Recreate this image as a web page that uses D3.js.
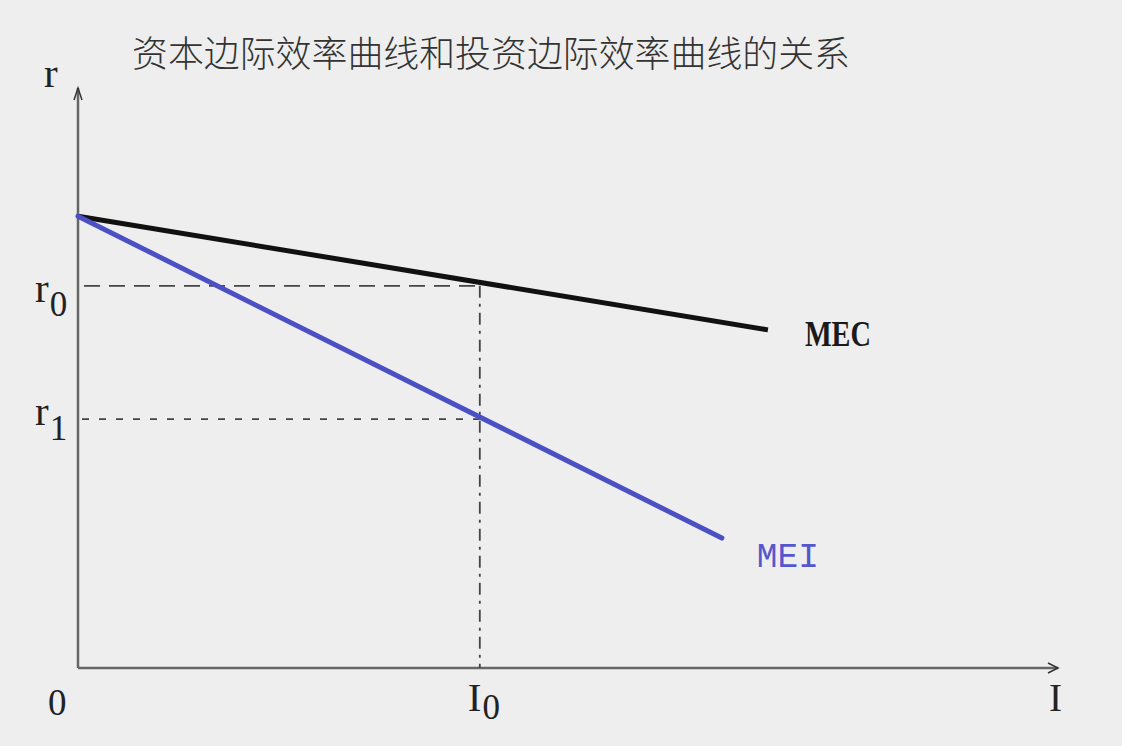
<!DOCTYPE html>
<html><head><meta charset="utf-8">
<script src="https://cdn.jsdelivr.net/npm/d3@7"></script>
<style>html,body{margin:0;padding:0;background:#eeeeee;}svg{display:block;}</style>
</head><body>
<svg id="c" width="1122" height="746"></svg>
<script>
// Data (abstract units)
const titleText = "资本边际效率曲线和投资边际效率曲线的关系";
const xDomain = [0, 10];
const yDomain = [0, 10];
const mecPoints = [[0, 7.79], [7.04, 5.83]];
const meiPoints = [[0, 7.79], [6.57, 2.24]];
const I0 = 4.1;
const r0 = 6.59;
const r1 = 4.29;
const axisMaxX = 10, axisMaxY = 10;

const svg = d3.select("#c");
const x = d3.scaleLinear().domain(xDomain).range([78, 1058]);
const y = d3.scaleLinear().domain(yDomain).range([668, 88]);

svg.append("rect").attr("width",1122).attr("height",746).attr("fill","#eeeeee");

// title
svg.append("text").attr("x",132).attr("y",67)
  .attr("font-family","'Noto Sans CJK SC'").attr("font-size",36).attr("font-weight",300)
  .attr("fill","#333").attr("textLength",718).attr("lengthAdjust","spacingAndGlyphs").text(titleText);

// axes
const axisColor = "#666";
svg.append("line").attr("x1",x(0)).attr("y1",y(0)).attr("x2",x(0)).attr("y2",y(axisMaxY))
  .attr("stroke",axisColor).attr("stroke-width",2.5);
svg.append("line").attr("x1",x(0)).attr("y1",y(0)).attr("x2",x(axisMaxX)).attr("y2",y(0))
  .attr("stroke",axisColor).attr("stroke-width",2.5);
// arrowheads
svg.append("path").attr("d",`M${x(0)-4},${y(axisMaxY)+12} L${x(0)},${y(axisMaxY)} L${x(0)+4},${y(axisMaxY)+12}`)
  .attr("fill","none").attr("stroke","#333").attr("stroke-width",1.5);
svg.append("path").attr("d",`M${x(axisMaxX)-10},${y(0)-5} L${x(axisMaxX)},${y(0)} L${x(axisMaxX)-10},${y(0)+5}`)
  .attr("fill","none").attr("stroke","#333").attr("stroke-width",1.5);

// dashed guides
svg.append("line").attr("x1",x(0)+6).attr("y1",y(r0)).attr("x2",x(I0)).attr("y2",y(r0))
  .attr("stroke","#444").attr("stroke-width",1.8).attr("stroke-dasharray","16,9");
svg.append("line").attr("x1",x(0)+4).attr("y1",y(r1)).attr("x2",x(I0)).attr("y2",y(r1))
  .attr("stroke","#444").attr("stroke-width",1.8).attr("stroke-dasharray","7,10");
svg.append("line").attr("x1",x(I0)).attr("y1",y(r0)).attr("x2",x(I0)).attr("y2",y(0))
  .attr("stroke","#444").attr("stroke-width",1.8).attr("stroke-dasharray","12,6,3,6");

const line = d3.line().x(d=>x(d[0])).y(d=>y(d[1]));
svg.append("path").datum(mecPoints).attr("d",line).attr("fill","none")
  .attr("stroke","#111").attr("stroke-width",5);
svg.append("path").datum(meiPoints).attr("d",line).attr("fill","none")
  .attr("stroke","#4b50c4").attr("stroke-width",5).attr("stroke-linecap","round");

const serif = "'Liberation Serif','DejaVu Serif',serif";
function lbl(tx, ty, t, size, fill){
  return svg.append("text").attr("x",tx).attr("y",ty).attr("font-family",serif)
    .attr("font-size",size).attr("fill",fill||"#222").text(t);
}
function sub(tx, ty, main, s, dy){
  const t = svg.append("text").attr("x",tx).attr("y",ty).attr("font-family",serif).attr("font-size",41).attr("fill","#222");
  t.append("tspan").text(main);
  t.append("tspan").attr("dx",1).attr("dy",dy).attr("font-size",35).text(s);
  return t;
}
// axis labels
lbl(44, 87, "r", 41);
lbl(48, 715, "0", 37);
lbl(1049, 711, "I", 39);
// r0, r1
sub(35, y(r0)+16, "r", "0", 14);
sub(35, y(r1)+6, "r", "1", 15);
// I0
sub(x(I0)-12, 711, "I", "0", 8);
// curve labels
lbl(x(mecPoints[1][0])+37, 346, "MEC", 36, "#1a1a1a")
  .attr("font-weight","bold").attr("textLength",66).attr("lengthAdjust","spacingAndGlyphs");
svg.append("text").attr("x",x(meiPoints[1][0])+35).attr("y",567)
  .attr("font-family","'Liberation Mono','DejaVu Sans Mono',monospace").attr("font-size",35)
  .attr("fill","#5557cc").attr("textLength",62).attr("lengthAdjust","spacingAndGlyphs").text("MEI");
</script>
</body></html>
